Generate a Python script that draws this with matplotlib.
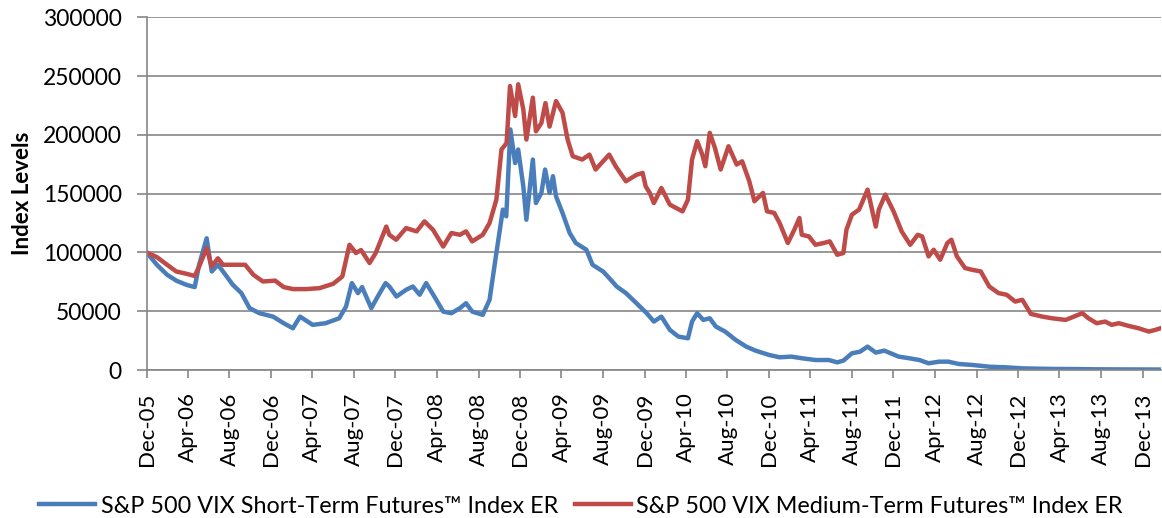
import matplotlib
matplotlib.use("Agg")
import matplotlib.pyplot as plt
import matplotlib.dates as mdates
import pandas as pd

# S&P 500 VIX Short-Term Futures Index ER (values in thousands)
short_dates = [
    "2005-12-20", "2006-01-19", "2006-02-18", "2006-03-17", "2006-04-16", "2006-05-10",
    "2006-05-23", "2006-06-14", "2006-06-29", "2006-07-17", "2006-08-01", "2006-08-30",
    "2006-09-24", "2006-10-18", "2006-11-16", "2006-12-26", "2007-01-26", "2007-02-22",
    "2007-03-15", "2007-04-21", "2007-05-29", "2007-07-08", "2007-07-28", "2007-08-14",
    "2007-09-01", "2007-09-13", "2007-10-10", "2007-10-29", "2007-11-21", "2007-12-02",
    "2007-12-23", "2008-01-20", "2008-02-09", "2008-02-29", "2008-03-19", "2008-04-12",
    "2008-05-08", "2008-06-01", "2008-06-26", "2008-07-14", "2008-08-01", "2008-09-01",
    "2008-09-21", "2008-10-11", "2008-10-30", "2008-11-09", "2008-11-21", "2008-12-05",
    "2008-12-14", "2008-12-29", "2009-01-07", "2009-01-26", "2009-02-04", "2009-02-20",
    "2009-03-03", "2009-03-16", "2009-03-26", "2009-04-04", "2009-04-23", "2009-05-14",
    "2009-06-01", "2009-07-02", "2009-07-20", "2009-08-20", "2009-09-07", "2009-09-29",
    "2009-10-26", "2009-11-26", "2009-12-26", "2010-01-16", "2010-02-07", "2010-03-04",
    "2010-03-29", "2010-04-26", "2010-05-08", "2010-05-23", "2010-06-10", "2010-06-29",
    "2010-07-17", "2010-08-13", "2010-09-13", "2010-10-14", "2010-11-10", "2010-12-20",
    "2011-01-20", "2011-02-23", "2011-03-26", "2011-05-05", "2011-06-13", "2011-07-08",
    "2011-07-26", "2011-08-20", "2011-09-13", "2011-10-05", "2011-10-29", "2011-11-23",
    "2011-12-17", "2012-01-04", "2012-02-04", "2012-03-05", "2012-04-01", "2012-05-02",
    "2012-05-29", "2012-06-29", "2012-08-07", "2012-09-26", "2012-11-13", "2013-01-01",
    "2013-02-20", "2013-04-07", "2013-06-04", "2013-08-01", "2013-10-20", "2014-02-10",
]
short_vals = [
    100, 89.5, 81, 76, 72.4, 70.5,
    89.5, 112, 83.8, 89.5, 83.8, 72.4,
    65.4, 52.6, 48.3, 45.4, 39.8, 35.5,
    45.4, 38.4, 39.8, 44, 54, 73.9,
    65.4, 70.5, 52.6, 62.5, 73.9, 71,
    62.5, 68.2, 71, 64, 73.9, 62.5,
    49.7, 48.3, 52.6, 56.8, 49.7, 46.9,
    59.7, 99.5, 136.4, 130.7, 204.6, 176,
    187.5, 156.2, 127.8, 179, 142, 150.6,
    170.5, 150.6, 164.8, 147.7, 133.6, 116.5,
    108, 102.3, 89.5, 83.8, 78.2, 71,
    65.4, 56.8, 48.3, 41.2, 45.4, 34.1,
    28.4, 27, 41.2, 48.3, 42.6, 44,
    36.9, 32.7, 25.6, 19.9, 16.5, 12.8,
    10.8, 11.4, 10, 8.5, 8.5, 6.5,
    8, 14.2, 15.6, 19.9, 14.8, 16.5,
    13.6, 11.4, 10, 8.5, 5.7, 7.1,
    7.1, 5.1, 4.3, 2.8, 2.3, 1.4,
    1.1, 0.9, 0.8, 0.6, 0.5, 0.4,
]

# S&P 500 VIX Medium-Term Futures Index ER (values in thousands)
medium_dates = [
    "2005-12-20", "2006-01-19", "2006-02-18", "2006-03-17", "2006-04-16", "2006-05-10",
    "2006-05-23", "2006-06-14", "2006-06-29", "2006-07-17", "2006-08-01", "2006-08-30",
    "2006-10-05", "2006-10-29", "2006-11-26", "2007-01-01", "2007-01-26", "2007-02-23",
    "2007-04-01", "2007-05-11", "2007-06-20", "2007-07-17", "2007-08-07", "2007-08-26",
    "2007-09-10", "2007-10-05", "2007-10-23", "2007-11-23", "2007-12-02", "2007-12-22",
    "2008-01-20", "2008-02-20", "2008-03-14", "2008-04-08", "2008-05-08", "2008-06-01",
    "2008-06-26", "2008-07-14", "2008-08-01", "2008-09-01", "2008-09-21", "2008-10-11",
    "2008-10-26", "2008-11-10", "2008-11-20", "2008-12-05", "2008-12-14", "2008-12-29",
    "2009-01-07", "2009-01-26", "2009-02-04", "2009-02-20", "2009-03-04", "2009-03-16",
    "2009-04-04", "2009-04-23", "2009-05-08", "2009-05-23", "2009-06-20", "2009-07-11",
    "2009-07-29", "2009-09-07", "2009-09-26", "2009-10-26", "2009-11-26", "2009-12-14",
    "2009-12-23", "2010-01-04", "2010-01-16", "2010-02-07", "2010-03-04", "2010-04-10",
    "2010-04-26", "2010-05-08", "2010-05-23", "2010-06-07", "2010-06-16", "2010-06-29",
    "2010-07-14", "2010-07-31", "2010-08-23", "2010-09-16", "2010-10-02", "2010-10-23",
    "2010-11-07", "2010-12-02", "2010-12-14", "2011-01-04", "2011-01-20", "2011-02-13",
    "2011-03-04", "2011-03-19", "2011-03-26", "2011-04-16", "2011-05-05", "2011-05-29",
    "2011-06-16", "2011-07-08", "2011-07-26", "2011-08-04", "2011-08-20", "2011-09-10",
    "2011-10-05", "2011-10-29", "2011-11-07", "2011-11-26", "2011-12-08", "2011-12-20",
    "2012-01-13", "2012-02-07", "2012-02-29", "2012-03-13", "2012-04-01", "2012-04-16",
    "2012-05-05", "2012-05-26", "2012-06-07", "2012-06-23", "2012-07-17", "2012-08-07",
    "2012-09-01", "2012-09-26", "2012-10-23", "2012-11-16", "2012-12-11", "2013-01-01",
    "2013-01-26", "2013-03-01", "2013-03-29", "2013-05-08", "2013-06-01", "2013-06-26",
    "2013-07-14", "2013-08-07", "2013-09-01", "2013-09-20", "2013-10-11", "2013-11-09",
    "2013-12-08", "2014-01-07", "2014-01-26", "2014-02-10",
]
medium_vals = [
    100, 96, 89.5, 83.8, 81.8, 80,
    88, 103.7, 88, 95, 89.5, 89.5,
    89.5, 81, 75.3, 76, 70.5, 68.8,
    68.8, 69.6, 73.3, 79.5, 106.5, 99.5,
    102, 91, 99.5, 122, 115, 110.8,
    120.7, 117.9, 126.4, 119.3, 105, 116.5,
    115, 117.9, 109.4, 115, 125, 144.9,
    187.5, 193, 241.5, 216, 243, 221.6,
    196, 231.6, 203, 210, 227, 207,
    228.7, 218.8, 196, 181.8, 179, 183.2,
    170.5, 183.2, 173.3, 160.5, 166, 167.6,
    156.2, 150.6, 142, 154.8, 140.6, 134.9,
    144.9, 179, 194.6, 183.2, 173.3, 201.7,
    189, 170.5, 190.3, 174.7, 177.5, 160.5,
    143.5, 150.6, 134.9, 133.6, 125, 108,
    119.3, 129.3, 115, 113.6, 106.5, 108,
    109.4, 98, 99.5, 119.3, 132.1, 136.4,
    153.4, 122, 136.4, 149.2, 142, 135,
    117.9, 106.5, 115, 113.6, 96.6, 102.3,
    93.8, 108, 110.8, 96.6, 86.7, 85.2,
    83.8, 71, 65.4, 64, 58.2, 59.7,
    47.7, 45.4, 44, 42.6, 45.4, 48.3,
    44, 39.8, 41.2, 38.4, 39.8, 37.5,
    35.5, 32.7, 34.1, 35.5,
]

series_labels = [
    "S&P 500 VIX Short-Term Futures\u2122 Index ER",
    "S&P 500 VIX Medium-Term Futures\u2122 Index ER",
]

FONT = ["Lato", "DejaVu Sans"]
plt.rcParams["font.family"] = FONT
GRID = "#868686"

fig = plt.figure(figsize=(11.62, 5.18), dpi=100)
ax = fig.add_axes([0.1262, 0.2857, 0.873, 0.681])

ax.plot(pd.to_datetime(short_dates), [v * 1000 for v in short_vals],
        color="#4a7ebb", lw=3.2, label=series_labels[0], solid_joinstyle="round")
ax.plot(pd.to_datetime(medium_dates), [v * 1000 for v in medium_vals],
        color="#be4b48", lw=3.2, label=series_labels[1], solid_joinstyle="round")

ax.set_ylim(0, 300000)
ax.set_yticks(range(0, 300001, 50000))
ax.set_xlim(pd.Timestamp("2005-12-20"), pd.Timestamp("2014-02-12"))
ax.set_xticks(pd.date_range("2005-12-20", "2014-01-31", freq=pd.DateOffset(months=4)))
ax.xaxis.set_major_formatter(mdates.DateFormatter("%b-%y"))

ax.grid(axis="y", color=GRID, lw=1.2)
ax.set_axisbelow(True)
for side in ["top", "right"]:
    ax.spines[side].set_visible(False)
for side in ["left", "bottom"]:
    ax.spines[side].set_color(GRID)
    ax.spines[side].set_linewidth(1.2)

ax.tick_params(axis="y", length=7, width=1.2, color=GRID, pad=11, labelsize=16.5)
ax.tick_params(axis="x", length=6, width=1.2, color=GRID, pad=10, labelsize=16,
               labelrotation=90)

ax.set_ylabel("Index Levels", fontsize=16, fontweight="bold", labelpad=4)
ax.yaxis.set_label_coords(-0.112, 0.5)

fig.legend(loc="center", bbox_to_anchor=(0.5, 0.023), ncol=2, frameon=False,
           fontsize=16.8, handlelength=2.4, handletextpad=0.25, columnspacing=0.7)

fig.savefig("out.png", dpi=100)
